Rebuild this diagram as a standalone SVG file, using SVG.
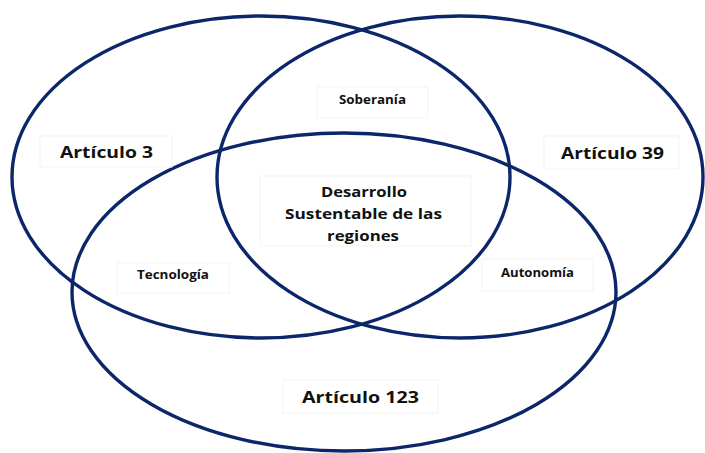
<svg xmlns="http://www.w3.org/2000/svg" width="705" height="453" viewBox="0 0 705 453">
<defs>
<style>
.ring{fill:none;stroke:#0c2769;stroke-width:3.4}
.box{fill:#ffffff;stroke:#f3f3f3;stroke-width:1}
.t{font-family:"Open Sans","Liberation Sans",sans-serif;font-weight:bold;fill:#111111;text-anchor:middle}
.big{font-size:16.5px}
.mid{font-size:15px}
.sm{font-size:11.5px}
</style>
<clipPath id="clipc"><rect x="260" y="176" width="211" height="70"/></clipPath>
</defs>
<rect width="705" height="453" fill="#ffffff"/>
<g id="connectors">
<ellipse id="e1" class="ring" cx="261" cy="177" rx="249" ry="161"/>
<ellipse id="e2" class="ring" cx="460" cy="177" rx="243" ry="161"/>
<ellipse id="e3" class="ring" cx="344" cy="292" rx="272" ry="159"/>
</g>
<g id="n-art3"><rect class="box" x="40" y="136" width="132" height="31"/><text class="t big" x="106.5" y="158" textLength="93" lengthAdjust="spacingAndGlyphs">Artículo 3</text></g>
<g id="n-soberania"><rect class="box" x="317" y="87" width="111" height="31"/><text class="t sm" x="372.5" y="104" textLength="67" lengthAdjust="spacingAndGlyphs">Soberanía</text></g>
<g id="n-art39"><rect class="box" x="544" y="136" width="135" height="33"/><text class="t big" x="612.5" y="159" textLength="103" lengthAdjust="spacingAndGlyphs">Artículo 39</text></g>
<g id="n-centro"><rect class="box" x="260" y="176" width="211" height="70"/>
<g clip-path="url(#clipc)"><text class="t mid" x="364" y="197" textLength="86" lengthAdjust="spacingAndGlyphs">Desarrollo</text><text class="t mid" x="363.5" y="219" textLength="157" lengthAdjust="spacingAndGlyphs">Sustentable de las</text><text class="t mid" x="363" y="241" textLength="72" lengthAdjust="spacingAndGlyphs">regiones</text></g></g>
<g id="n-tecnologia"><rect class="box" x="117" y="263" width="112" height="30"/><text class="t sm" x="173" y="279" textLength="72" lengthAdjust="spacingAndGlyphs">Tecnología</text></g>
<g id="n-autonomia"><rect class="box" x="482" y="259" width="111" height="32"/><text class="t sm" x="537.5" y="276.5" textLength="73" lengthAdjust="spacingAndGlyphs">Autonomía</text></g>
<g id="n-art123"><rect class="box" x="283" y="380" width="155" height="33"/><text class="t big" x="360.5" y="403" textLength="117" lengthAdjust="spacingAndGlyphs">Artículo 123</text></g>
</svg>
